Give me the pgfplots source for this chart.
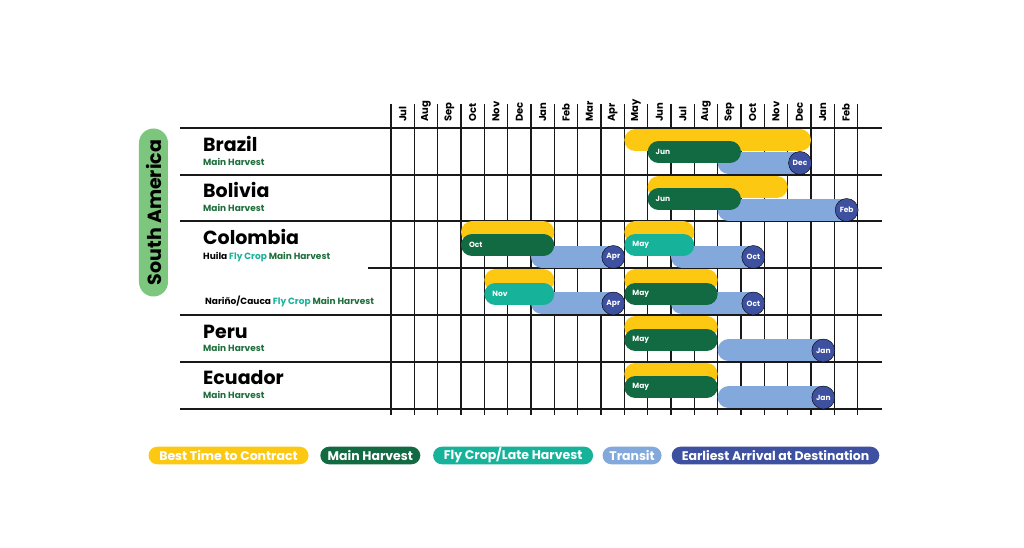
\documentclass[border=0pt]{standalone}
\usepackage{pgfplots}
\pgfplotsset{compat=1.18}
\usepackage{fontspec}
\setmainfont{Poppins}
\definecolor{cyellow}{RGB}{253,200,18}
\definecolor{cgreen}{RGB}{17,106,66}
\definecolor{cteal}{RGB}{22,178,154}
\definecolor{ctransit}{RGB}{130,168,220}
\definecolor{cblue}{RGB}{62,80,160}
\definecolor{csa}{RGB}{125,198,126}
\definecolor{cline}{RGB}{25,25,25}
\definecolor{csub}{RGB}{30,110,60}
\pgfplotsset{
  bar/.style={line width=22pt, line cap=round, shorten <=11pt, shorten >=11pt, mark=none},
}
\newcommand{\fs}[1]{\fontsize{#1}{#1}\selectfont}
\begin{document}
\begin{tikzpicture}
\begin{axis}[
  x=23.3333pt, y=1pt, y dir=reverse,
  xmin=-16.757, xmax=27.129, ymin=0, ymax=548,
  hide axis, clip=false,
]
\coordinate (BL) at (axis cs:-16.757,548);
\coordinate (TR) at (axis cs:27.129,0);
% grid
\pgfplotsinvokeforeach{1,...,20}{\draw[cline, line width=1.1pt] (axis cs:#1,104) -- (axis cs:#1,415);}
\draw[cline, line width=1.8pt] (axis cs:0,104) -- (axis cs:0,415);
\pgfplotsinvokeforeach{128,175,221,315,362,409}{\draw[cline, line width=1.6pt] (axis cs:-9.043,#1) -- (axis cs:21.043,#1);}
\draw[cline, line width=1.6pt] (axis cs:-0.986,268) -- (axis cs:21.043,268);
% month labels
\foreach \m [count=\i from 0] in {Jul,Aug,Sep,Oct,Nov,Dec,Jan,Feb,Mar,Apr,May,Jun,Jul,Aug,Sep,Oct,Nov,Dec,Jan,Feb}{
  \edef\tmp{\noexpand\node[rotate=90, anchor=west, inner sep=0pt, font=\noexpand\bfseries\noexpand\fs{10}] at (axis cs:\i+0.5,122) {\m};}\tmp
}
% yellow: best time to contract
\addplot[bar, cyellow] coordinates {(10,140.5) (18,140.5)};
\addplot[bar, cyellow] coordinates {(11,187) (17,187)};
\addplot[bar, cyellow] coordinates {(3,232.5) (7,232.5)};
\addplot[bar, cyellow] coordinates {(10,232.5) (13,232.5)};
\addplot[bar, cyellow] coordinates {(4,280.5) (7,280.5)};
\addplot[bar, cyellow] coordinates {(10,280.5) (14,280.5)};
\addplot[bar, cyellow] coordinates {(10,327.5) (14,327.5)};
\addplot[bar, cyellow] coordinates {(10,374) (14,374)};
% transit
\addplot[bar, ctransit] coordinates {(14,163) (18,163)};
\addplot[bar, ctransit] coordinates {(14,210) (20,210)};
\addplot[bar, ctransit] coordinates {(6,257) (10,257)};
\addplot[bar, ctransit] coordinates {(12,257) (16,257)};
\addplot[bar, ctransit] coordinates {(6,303.5) (10,303.5)};
\addplot[bar, ctransit] coordinates {(12,303.5) (16,303.5)};
\addplot[bar, ctransit] coordinates {(14,350.5) (19,350.5)};
\addplot[bar, ctransit] coordinates {(14,397.5) (19,397.5)};
% main harvest / fly crop
\addplot[bar, cgreen] coordinates {(11,152) (15,152)};
\addplot[bar, cgreen] coordinates {(11,199) (15,199)};
\addplot[bar, cgreen] coordinates {(3,245) (7,245)};
\addplot[bar, cteal] coordinates {(10,245) (13,245)};
\addplot[bar, cteal] coordinates {(4,294) (7,294)};
\addplot[bar, cgreen] coordinates {(10,294) (14,294)};
\addplot[bar, cgreen] coordinates {(10,340) (14,340)};
\addplot[bar, cgreen] coordinates {(10,387) (14,387)};
% earliest arrival circles
\addplot[only marks, mark=*, mark size=11.5pt, mark options={draw=none, fill=cblue},
  point meta=explicit symbolic, nodes near coords,
  nodes near coords style={anchor=center, text=white, font=\bfseries\fs{7.5}}]
  coordinates {(17.529,163)[Dec] (19.529,210)[Feb] (9.529,257)[Apr] (15.529,257)[Oct]
               (9.529,303.5)[Apr] (15.529,303.5)[Oct] (18.529,350.5)[Jan] (18.529,397.5)[Jan]};
% harvest start labels
\addplot[only marks, mark=*, mark size=0pt, mark options={draw=none, fill=none},
  point meta=explicit symbolic, nodes near coords,
  nodes near coords style={anchor=west, xshift=4.5pt, text=white, font=\bfseries\fs{7.5}}]
  coordinates {(11,152)[Jun] (11,199)[Jun] (3,245)[Oct] (10,245)[May]
               (4,294)[Nov] (10,294)[May] (10,340)[May] (10,387)[May]};
% left labels
\node[anchor=base west, inner sep=0pt, font=\bfseries\fs{19}] at (axis cs:-8.057,151.7) {Brazil};
\node[anchor=base west, inner sep=0pt, font=\bfseries\fs{9}, text=csub] at (axis cs:-8.057,165.7) {Main Harvest};
\node[anchor=base west, inner sep=0pt, font=\bfseries\fs{19}] at (axis cs:-8.057,197.3) {Bolivia};
\node[anchor=base west, inner sep=0pt, font=\bfseries\fs{9}, text=csub] at (axis cs:-8.057,211.7) {Main Harvest};
\node[anchor=base west, inner sep=0pt, font=\bfseries\fs{19}] at (axis cs:-8.057,244.3) {Colombia};
\node[anchor=base west, inner sep=0pt, font=\bfseries\fs{9}] at (axis cs:-8.057,259.3) {Huila \textcolor{cteal}{Fly Crop} \textcolor{csub}{Main Harvest}};
\node[anchor=base west, inner sep=0pt, font=\bfseries\fs{9}] at (axis cs:-7.971,305) {Nariño/Cauca \textcolor{cteal}{Fly Crop} \textcolor{csub}{Main Harvest}};
\node[anchor=base west, inner sep=0pt, font=\bfseries\fs{19}] at (axis cs:-8.057,338.3) {Peru};
\node[anchor=base west, inner sep=0pt, font=\bfseries\fs{9}, text=csub] at (axis cs:-8.057,351.7) {Main Harvest};
\node[anchor=base west, inner sep=0pt, font=\bfseries\fs{19}] at (axis cs:-8.057,385) {Ecuador};
\node[anchor=base west, inner sep=0pt, font=\bfseries\fs{9}, text=csub] at (axis cs:-8.057,398.3) {Main Harvest};
% region pill
\node[rotate=90, fill=csa, rounded corners=14.5pt, minimum width=168pt, minimum height=29pt, inner sep=0pt, font=\bfseries\fs{19}] at (axis cs:-10.179,212.5) {South America};
% legend
\tikzset{lg/.style={rounded corners=8.8pt, minimum height=17.6pt, inner sep=0pt, text=white, font=\bfseries\fs{12.5}}}
\node[lg, fill=cyellow, minimum width=160pt] at (axis cs:-6.964,455.5) {Best Time to Contract};
\node[lg, fill=cgreen, minimum width=100pt] at (axis cs:-0.887,455.5) {Main Harvest};
\node[lg, fill=cteal, minimum width=160pt] at (axis cs:5.233,455.5) {Fly Crop/Late Harvest};
\node[lg, fill=ctransit, minimum width=59pt] at (axis cs:10.331,455.5) {Transit};
\node[lg, fill=cblue, minimum width=207.6pt] at (axis cs:16.479,455.5) {Earliest Arrival at Destination};
\end{axis}
\pgfresetboundingbox
\path[use as bounding box] (BL) rectangle (TR);
\end{tikzpicture}
\end{document}
